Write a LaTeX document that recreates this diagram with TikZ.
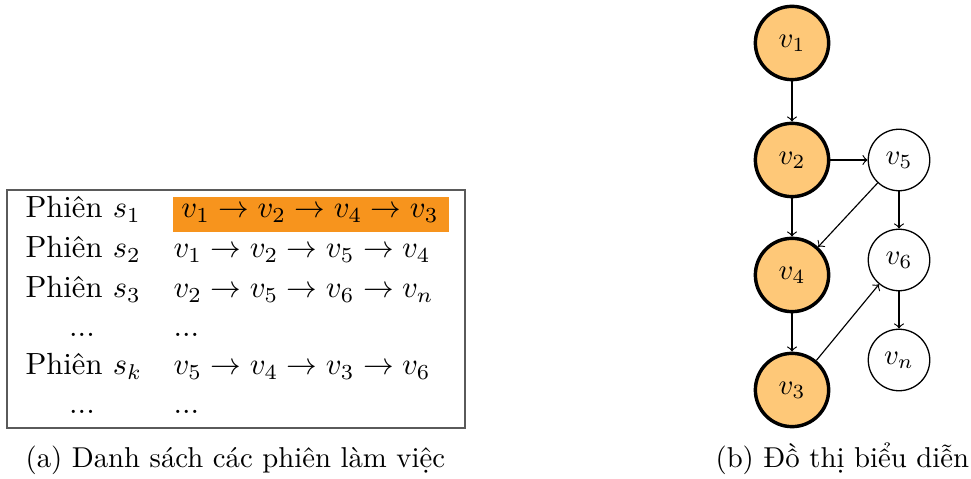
\documentclass[tikz,border=0pt]{standalone}
\usepackage{fontspec}
\definecolor{hlorange}{RGB}{247,148,29}
\definecolor{nodeorange}{RGB}{254,200,120}
\definecolor{framegray}{RGB}{90,90,90}
\begin{document}
\begin{tikzpicture}[x=0.348pt,y=-0.348pt,
  rowtext/.style={anchor=base west,inner sep=0pt,scale=1.065,transform shape},
  dotstext/.style={anchor=base,inner sep=0pt,scale=1.065,transform shape},
  hotnode/.style={circle,draw=black,line width=1.2pt,fill=nodeorange,minimum size=25.5pt,inner sep=0pt},
  coldnode/.style={circle,draw=black,line width=0.45pt,fill=white,minimum size=21.4pt,inner sep=0pt},
  edge/.style={->,line width=0.4pt},
  captext/.style={anchor=base west,inner sep=0pt}]
\useasboundingbox (0,0) rectangle (971,479);
% table frame
\draw[framegray,line width=0.6pt] (7,190) rectangle (465,428);
% highlighted first sequence
\node[fill=hlorange,minimum width=96pt,minimum height=12.2pt,inner sep=0pt,anchor=center] (hl) at (311,214.5) {};
\node[anchor=base,inner sep=0pt,scale=1.065,transform shape] (q1) at (310,218) {$v_1 \rightarrow v_2 \rightarrow v_4 \rightarrow v_3$};
% rows
\node[rowtext] (p1) at (25,218) {Phiên $s_1$};
\node[rowtext] (p2) at (25,258) {Phiên $s_2$};
\node[rowtext] (q2) at (173,258) {$v_1 \rightarrow v_2 \rightarrow v_5 \rightarrow v_4$};
\node[rowtext] (p3) at (25,298) {Phiên $s_3$};
\node[rowtext] (q3) at (173,298) {$v_2 \rightarrow v_5 \rightarrow v_6 \rightarrow v_n$};
\node[dotstext] (d1) at (82,337) {...};
\node[rowtext] (d2) at (173,337) {...};
\node[rowtext] (pk) at (25,375) {Phiên $s_k$};
\node[rowtext] (qk) at (173,375) {$v_5 \rightarrow v_4 \rightarrow v_3 \rightarrow v_6$};
\node[dotstext] (d3) at (82,413) {...};
\node[rowtext] (d4) at (173,413) {...};
% graph
\node[hotnode] (v1) at (792,43) {$v_1$};
\node[hotnode] (v2) at (792,160) {$v_2$};
\node[hotnode] (v4) at (792,275) {$v_4$};
\node[hotnode] (v3) at (792,390) {$v_3$};
\node[coldnode] (v5) at (899,160) {$v_5$};
\node[coldnode] (v6) at (899,260) {$v_6$};
\node[coldnode] (vn) at (899,360) {$v_n$};
\draw[edge] (v1) -- (v2);
\draw[edge] (v2) -- (v4);
\draw[edge] (v4) -- (v3);
\draw[edge] (v2) -- (v5);
\draw[edge] (v5) -- (v4);
\draw[edge] (v5) -- (v6);
\draw[edge] (v6) -- (vn);
\draw[edge] (v3) -- (v6);
% captions
\node[captext] (capa) at (25,467) {(a) Danh sách các phiên làm việc};
\node[captext] (capb) at (715,467) {(b) Đồ thị biểu diễn};
\end{tikzpicture}
\end{document}
